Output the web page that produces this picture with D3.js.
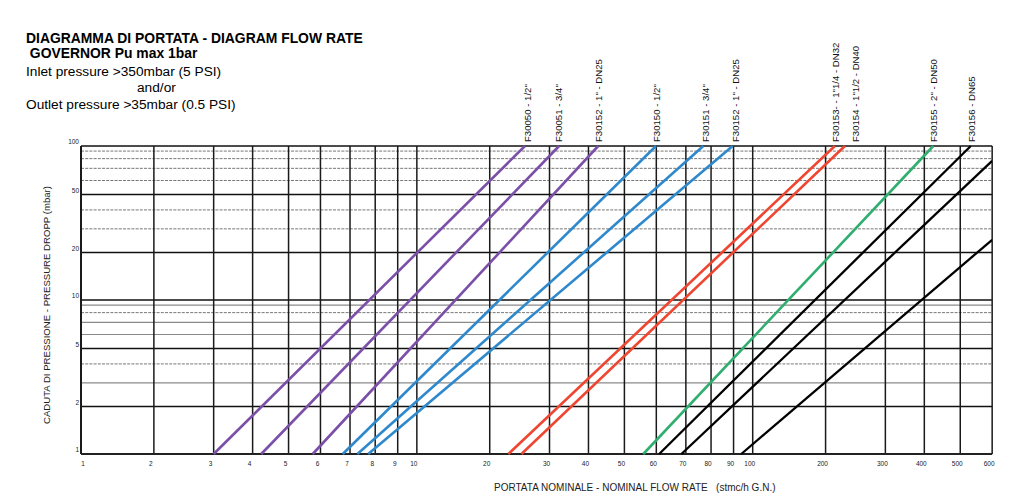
<!DOCTYPE html>
<html><head><meta charset="utf-8">
<script src="https://cdn.jsdelivr.net/npm/d3@7"></script>
<style>
html,body{margin:0;padding:0;background:#fff;}
svg{display:block;font-family:"Liberation Sans",Arial,sans-serif;}
</style></head>
<body>
<svg id="chart" width="1024" height="504"></svg>
<script>
// ---------------- data ----------------
const xTickValues = [1,2,3,4,5,6,7,8,9,10,20,30,40,50,60,70,80,90,100,200,300,400,500,600];
const yScaleValues = [1,2,3,4,5,6,7,8,9,10,20,30,40,50,60,70,80,90,100];
const yTickLabels = [1,2,5,10,20,50,100];
const yGridMajor = [2,5,10,20,50,100];
const yGridMinorSolid = [3,6,7,9];
const yGridMinorDashed = [4,8,30,40,60,70,80,90];

const seriesLabels = [
  'F30050 - 1/2"', 'F30051 - 3/4"', 'F30152 - 1" - DN25',
  'F30150 - 1/2"', 'F30151 - 3/4"', 'F30152 - 1" - DN25',
  'F30153- - 1"1/4 - DN32', 'F30154 - 1"1/2 - DN40',
  'F30155 - 2" - DN50', 'F30156 - DN65', null, null
];
const seriesGroup = ["purple","purple","purple","blue","blue","blue","red","red","green","black","black","black"];
// flow (stmc/h) at 1 mbar
const flowAtStart = [3.0, 4.22, 5.74, 6.74, 7.28, 7.71, 22.7, 24.8, 55.7, 60.9, 68.4, 93.9];
const dropAtStart = [1,1,1,1,1,1,1,1,1,1,1,1];
// flow and pressure drop at end of each line
const flowAtEnd = [25.4, 32.2, 42.5, 59.9, 76.8, 89.6, 213, 228, 423, 531, 600, 600];
const dropAtEnd = [100,100,100,100,100,100,100,100,100,100,77.6,24.9];

const titleLines = [
  {t:"DIAGRAMMA DI PORTATA - DIAGRAM FLOW RATE", bold:true},
  {t:" GOVERNOR Pu max 1bar", bold:true},
  {t:"Inlet pressure >350mbar (5 PSI)", bold:false},
  {t:"and/or", bold:false},
  {t:"Outlet pressure >35mbar (0.5 PSI)", bold:false}
];
const xTitle = "PORTATA NOMINALE - NOMINAL FLOW RATE   (stmc/h G.N.)";
const yTitle = "CADUTA DI PRESSIONE - PRESSURE DROPP (mbar)";

// ---------------- layout / style ----------------
const colors = {purple:"#7b4fa8", blue:"#2e88cc", red:"#ee4630", green:"#2fae6f", black:"#000"};
const X0 = 81, XDEC = 335.85;
const Y0 = 454, YDEC = 154;
const xFrac = [0,.217,.395,.511,.618,.713,.801,.876,.943];
const yFrac = [0,.308,.462,.585,.685,.776,.855,.918,.967];
const labelNudge = [2.5,0,0.5,1,2.5,2.5,0.5,11,0,1,0,0];

function decadePos(v, frac, origin, width, dir){
  const k = Math.floor(Math.log10(v) + 1e-9);
  const m = Math.round(v / Math.pow(10, k));
  return origin + dir * (k + frac[m - 1]) * width;
}

const x = d3.scaleLog().domain(xTickValues)
  .range(xTickValues.map(v => decadePos(v, xFrac, X0, XDEC, 1)));
const y = d3.scaleLog().domain(yScaleValues)
  .range(yScaleValues.map(v => decadePos(v, yFrac, Y0, YDEC, -1)));

const svg = d3.select("#chart");
const xL = x(1), xR = x(600), yT = y(100), yB = y(1);

// title block
const tg = svg.append("g");
const titleX = [26, 26, 26, 137, 26];
const titleY = [43, 57.5, 76, 92, 109];
titleLines.forEach((d,i)=>{
  tg.append("text").attr("x", titleX[i]).attr("y", titleY[i])
    .attr("font-size", d.bold ? 13.9 : 13.7).attr("font-weight", d.bold ? "bold" : "normal")
    .attr("fill","#000").attr("xml:space","preserve").style("white-space","pre")
    .text(d.t);
});

// horizontal grid
const grid = svg.append("g");
grid.selectAll(".hd").data(yGridMinorDashed).join("line")
  .attr("x1", xL).attr("x2", xR).attr("y1", d=>y(d)).attr("y2", d=>y(d))
  .attr("stroke","#777").attr("stroke-width",1).attr("stroke-dasharray","3,1.2");
grid.selectAll(".hs").data(yGridMinorSolid).join("line")
  .attr("x1", xL).attr("x2", xR).attr("y1", d=>y(d)).attr("y2", d=>y(d))
  .attr("stroke","#8a8a8a").attr("stroke-width",1.2);
grid.selectAll(".hm").data(yGridMajor).join("line")
  .attr("x1", xL).attr("x2", xR).attr("y1", d=>y(d)).attr("y2", d=>y(d))
  .attr("stroke","#111").attr("stroke-width",1.5);
// vertical grid
grid.selectAll(".v").data(xTickValues).join("line")
  .attr("x1", d=>x(d)).attr("x2", d=>x(d)).attr("y1", yT).attr("y2", yB)
  .attr("stroke","#1a1a1a").attr("stroke-width", d => d===1 ? 2 : 1.5);
// bottom axis line
grid.append("line").attr("x1", xL).attr("x2", xR).attr("y1", yB).attr("y2", yB)
  .attr("stroke","#222").attr("stroke-width",2.2);

// tick labels
svg.append("g").selectAll("text").data(xTickValues).join("text")
  .attr("x", d => x(d) + (d===1 ? 2 : -3)).attr("y", yB + 11.5)
  .attr("text-anchor","middle").attr("font-size",6.5).attr("fill","#222")
  .text(d=>d);
svg.append("g").selectAll("text").data(yTickLabels).join("text")
  .attr("x", xL - 2).attr("y", d => y(d) - 1.8)
  .attr("text-anchor","end").attr("font-size",6.5).attr("fill","#222")
  .text(d=>d);

// axis titles
svg.append("text").attr("x", 494).attr("y", 490.5).attr("font-size",10)
  .attr("fill","#222").attr("xml:space","preserve").style("white-space","pre").text(xTitle);
svg.append("text").attr("transform","translate(49.5,305) rotate(-90)")
  .attr("text-anchor","middle").attr("font-size",9.6).attr("fill","#222").text(yTitle);

// series lines
svg.append("defs").append("clipPath").attr("id","plotclip").append("rect")
  .attr("x", xL).attr("y", yT - 1).attr("width", xR - xL).attr("height", yB - yT + 2);
const series = flowAtStart.map((f,i)=>({
  pts:[[f, dropAtStart[i]],[flowAtEnd[i], dropAtEnd[i]]],
  color: colors[seriesGroup[i]], label: seriesLabels[i], group: seriesGroup[i], nudge: labelNudge[i]
}));
const line = d3.line().x(d=>x(d[0])).y(d=>y(d[1]));
svg.append("g").attr("clip-path","url(#plotclip)").selectAll("path").data(series).join("path")
  .attr("d", d=>line(d.pts)).attr("fill","none").attr("stroke", d=>d.color)
  .attr("stroke-width", d => d.group==="black" ? 2.3 : 2.6);

// series labels
svg.append("g").selectAll("text").data(series.filter(d=>d.label)).join("text")
  .attr("transform", d => `translate(${x(d.pts[1][0]) + d.nudge},${y(100) - 4}) rotate(-90)`)
  .attr("dy","0.35em").attr("font-size",9.6).attr("fill","#111")
  .text(d=>d.label);
</script>
</body></html>
